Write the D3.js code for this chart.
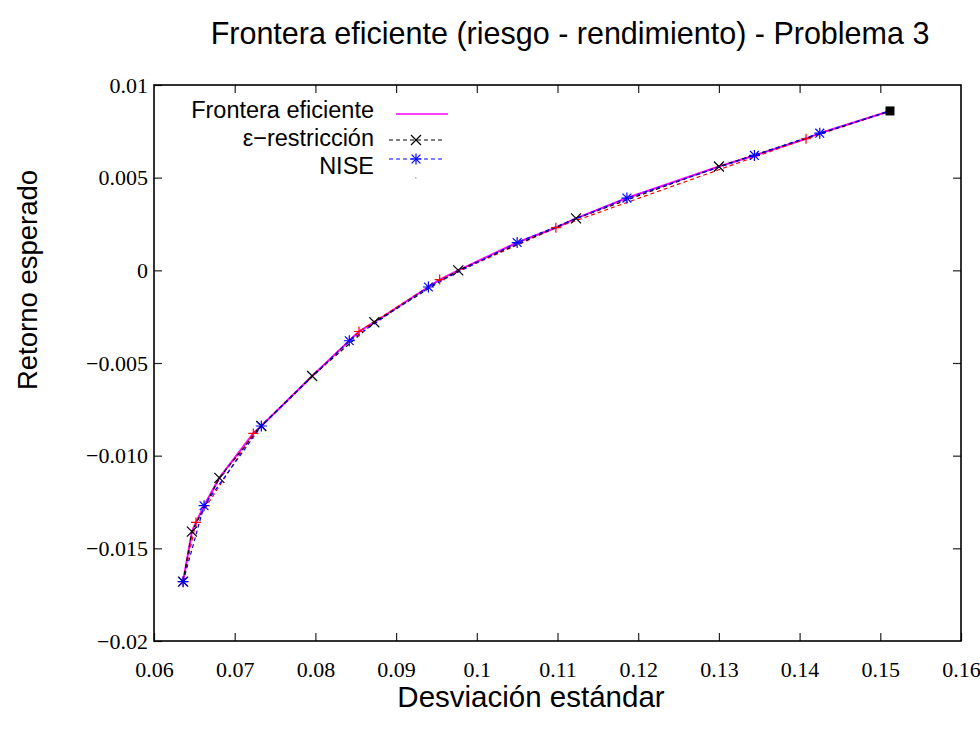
<!DOCTYPE html>
<html>
<head>
<meta charset="utf-8">
<script src="https://cdn.jsdelivr.net/npm/d3@7"></script>
<style>
  body { margin: 0; background: #fff; }
  .lbl { font-family: "Liberation Sans", Arial, sans-serif; fill: #000; }
  .tick text { font-family: "Liberation Serif", "DejaVu Serif", serif; font-size: 22px; fill: #000; }
  .tick line { stroke: #222; stroke-width: 1.2; }
  .domain { display: none; }
</style>
</head>
<body>
<svg id="chart" width="980" height="735"></svg>
<script>
// ticks
var xTicks = [0.06, 0.07, 0.08, 0.09, 0.1, 0.11, 0.12, 0.13, 0.14, 0.15, 0.16];
var xTickLabels = ["0.06", "0.07", "0.08", "0.09", "0.1", "0.11", "0.12", "0.13", "0.14", "0.15", "0.16"];
var yTicks = [-0.02, -0.015, -0.01, -0.005, 0, 0.005, 0.01];
var yTickLabels = ["\u22120.02", "\u22120.015", "\u22120.010", "\u22120.005", "0", "0.005", "0.01"];

// Frontera eficiente (solid line)
var frontRisk = [0.0636, 0.0647, 0.0652, 0.0662, 0.0681, 0.0723, 0.0733, 0.0796, 0.0842, 0.0854, 0.0873, 0.0940, 0.0954, 0.0977, 0.1050, 0.1098, 0.1123, 0.1186, 0.1300, 0.1344, 0.1408, 0.1425, 0.1512];
var frontRet  = [-0.0168, -0.0141, -0.0136, -0.0127, -0.0112, -0.0088, -0.0084, -0.0057, -0.0038, -0.0033, -0.0028, -0.0009, -0.0005, 0.0000, 0.0015, 0.0023, 0.0028, 0.0039, 0.0056, 0.0062, 0.0071, 0.0074, 0.0086];

// e-restriccion
var epsRisk = [0.0636, 0.0647, 0.0681, 0.0733, 0.0796, 0.0873, 0.0977, 0.1123, 0.1300, 0.1512];
var epsRet  = [-0.0168, -0.0141, -0.0112, -0.0084, -0.0057, -0.0028, 0.0000, 0.0028, 0.0056, 0.0086];

// NISE
var niseRisk = [0.0636, 0.0662, 0.0733, 0.0842, 0.0940, 0.1050, 0.1186, 0.1344, 0.1425, 0.1512];
var niseRet  = [-0.0168, -0.0127, -0.0084, -0.0038, -0.0009, 0.0015, 0.0039, 0.0062, 0.0074, 0.0086];

// fourth series (red +, no legend text)
var redRisk = [0.0636, 0.0652, 0.0723, 0.0854, 0.0954, 0.1098, 0.1408, 0.1512];
var redRet  = [-0.0168, -0.0136, -0.0088, -0.0033, -0.0005, 0.0023, 0.0071, 0.0086];

// end point
var endPoint = [0.1512, 0.0086];

var svg = d3.select("#chart");
var pLeft = 154, pRight = 961, pTop = 85, pBottom = 641;

var x = d3.scaleLinear().domain([0.06, 0.16]).range([pLeft, pRight]);
var y = d3.scaleLinear().domain([-0.02, 0.01]).range([pBottom, pTop]);

function zip(a, b) { return a.map(function(v, i) { return [v, b[i]]; }); }

// axes, ticks pointing inward on all four sides
svg.append("g")
    .attr("transform", "translate(0," + pBottom + ")")
    .call(d3.axisBottom(x).tickValues(xTicks).tickSize(-8).tickPadding(20)
      .tickFormat(function(d, i) { return xTickLabels[i]; }));
svg.append("g")
    .attr("transform", "translate(0," + pTop + ")")
    .call(d3.axisTop(x).tickValues(xTicks.slice(1, -1)).tickSize(-8).tickFormat(""));
svg.append("g")
    .attr("transform", "translate(" + pLeft + ",0)")
    .call(d3.axisLeft(y).tickValues(yTicks).tickSize(-8).tickPadding(6)
      .tickFormat(function(d, i) { return yTickLabels[i]; }));
svg.append("g")
    .attr("transform", "translate(" + pRight + ",0)")
    .call(d3.axisRight(y).tickValues(yTicks.slice(1, -1)).tickSize(-8).tickFormat(""));

svg.append("rect")
    .attr("x", pLeft).attr("y", pTop)
    .attr("width", pRight - pLeft).attr("height", pBottom - pTop)
    .attr("fill", "none").attr("stroke", "#000").attr("stroke-width", 1.6);

var line = d3.line().x(function(d) { return x(d[0]); }).y(function(d) { return y(d[1]); });

svg.append("path").datum(zip(frontRisk, frontRet))
    .attr("d", line).attr("fill", "none").attr("stroke", "#ff00ff").attr("stroke-width", 2);
svg.append("path").datum(zip(redRisk, redRet))
    .attr("d", line).attr("fill", "none").attr("stroke", "#ff0000").attr("stroke-width", 1.2)
    .attr("stroke-dasharray", "4,3");
svg.append("path").datum(zip(epsRisk, epsRet))
    .attr("d", line).attr("fill", "none").attr("stroke", "#000").attr("stroke-width", 1.2)
    .attr("stroke-dasharray", "4,3");
svg.append("path").datum(zip(niseRisk, niseRet))
    .attr("d", line).attr("fill", "none").attr("stroke", "#0000ff").attr("stroke-width", 1.2)
    .attr("stroke-dasharray", "4,3");

// marker shapes
function cross(g, cx, cy, s, color) {
  g.append("path").attr("d", "M" + (cx - s) + "," + (cy - s) + "L" + (cx + s) + "," + (cy + s) +
      "M" + (cx - s) + "," + (cy + s) + "L" + (cx + s) + "," + (cy - s))
    .attr("stroke", color).attr("stroke-width", 1.2).attr("fill", "none");
}
function plus(g, cx, cy, s, color) {
  g.append("path").attr("d", "M" + (cx - s) + "," + cy + "L" + (cx + s) + "," + cy +
      "M" + cx + "," + (cy - s) + "L" + cx + "," + (cy + s))
    .attr("stroke", color).attr("stroke-width", 1.2).attr("fill", "none");
}
function star(g, cx, cy, s, color) {
  plus(g, cx, cy, s, color);
  cross(g, cx, cy, s * 0.8, color);
}

// markers everywhere except the shared end point, which gets the square
function notEnd(d) { return !(d[0] === endPoint[0] && d[1] === endPoint[1]); }

var marks = svg.append("g");
zip(redRisk, redRet).filter(notEnd).forEach(function(d) { plus(marks, x(d[0]), y(d[1]), 5, "#ff0000"); });
zip(epsRisk, epsRet).filter(notEnd).forEach(function(d) { cross(marks, x(d[0]), y(d[1]), 5, "#000"); });
zip(niseRisk, niseRet).filter(notEnd).forEach(function(d) { star(marks, x(d[0]), y(d[1]), 5.5, "#0000ff"); });

marks.append("rect")
    .attr("x", x(endPoint[0]) - 4.5).attr("y", y(endPoint[1]) - 4.5)
    .attr("width", 9).attr("height", 9).attr("fill", "#000");

// legend
var legend = svg.append("g");
var legendNames = ["Frontera eficiente", "\u03b5\u2212restricci\u00f3n", "NISE"];
var legendBase = [118, 146, 174];
legend.selectAll("text").data(legendNames).enter().append("text")
    .attr("class", "lbl")
    .attr("x", 374).attr("y", function(d, i) { return legendBase[i]; })
    .attr("text-anchor", "end").style("font-size", "23.5px")
    .text(function(d) { return d; });

legend.append("line").attr("x1", 396).attr("x2", 448).attr("y1", 114).attr("y2", 114)
    .attr("stroke", "#ff00ff").attr("stroke-width", 1.5);
legend.append("line").attr("x1", 389).attr("x2", 443).attr("y1", 140).attr("y2", 140)
    .attr("stroke", "#000").attr("stroke-width", 1.2).attr("stroke-dasharray", "4,3");
cross(legend, 416, 140, 5, "#000");
legend.append("line").attr("x1", 389).attr("x2", 443).attr("y1", 159).attr("y2", 159)
    .attr("stroke", "#0000ff").attr("stroke-width", 1.2).attr("stroke-dasharray", "4,3");
star(legend, 416, 159, 5.5, "#0000ff");
legend.append("rect").attr("x", 415).attr("y", 177).attr("width", 1.5).attr("height", 1.5)
    .attr("fill", "#aaa");

// titles
svg.append("text").attr("class", "lbl")
    .attr("x", 570).attr("y", 44).attr("text-anchor", "middle").style("font-size", "30.5px")
    .text("Frontera eficiente (riesgo - rendimiento) - Problema 3");
svg.append("text").attr("class", "lbl")
    .attr("x", 531).attr("y", 707).attr("text-anchor", "middle").style("font-size", "29.5px")
    .text("Desviaci\u00f3n est\u00e1ndar");
svg.append("text").attr("class", "lbl")
    .attr("transform", "translate(37,280) rotate(-90)").attr("text-anchor", "middle")
    .style("font-size", "27.5px")
    .text("Retorno esperado");
</script>
</body>
</html>
